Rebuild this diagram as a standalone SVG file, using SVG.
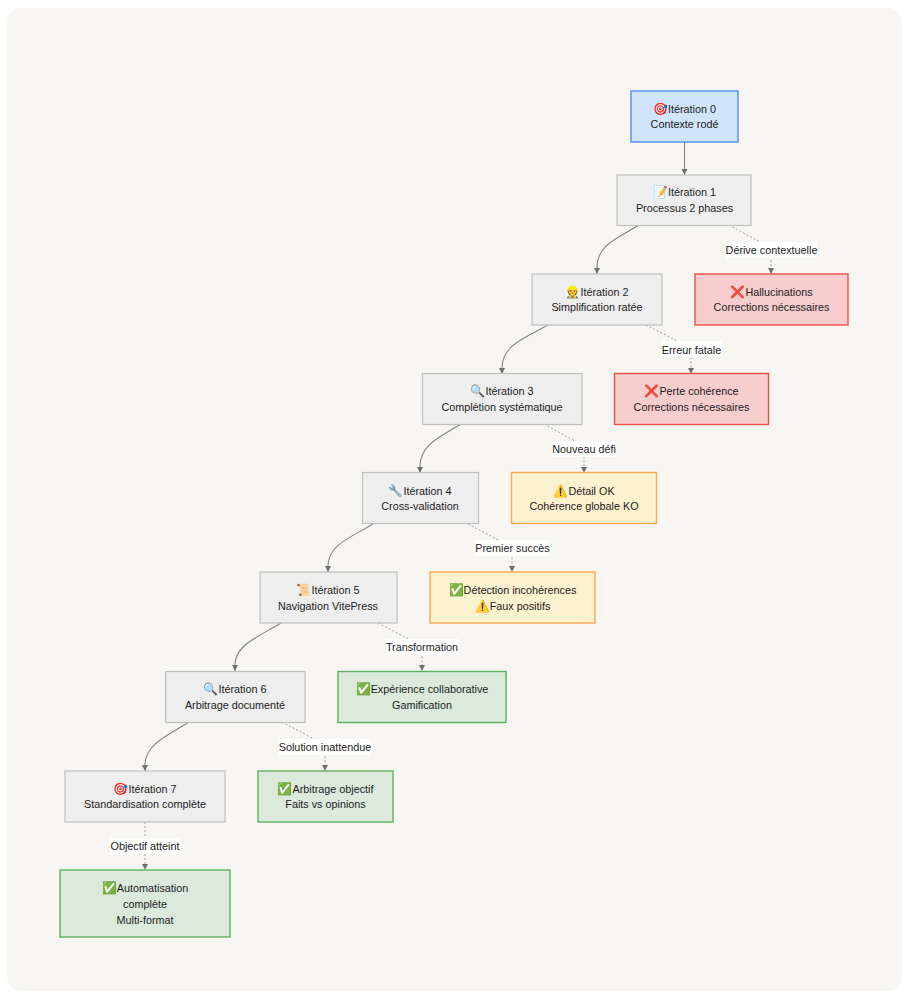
<svg xmlns="http://www.w3.org/2000/svg" width="912" height="1000" viewBox="0 0 912 1000">
<defs>
<marker id="arrow" markerWidth="7" markerHeight="7" refX="6" refY="3" orient="auto" markerUnits="userSpaceOnUse"><path d="M0 0L6 3L0 6z" fill="#6f6f6f"/></marker>
</defs>
<style>
text{font-family:"Liberation Sans",Arial,sans-serif;font-size:10.8px;fill:#1c1c1c;text-anchor:middle}
.e{font-size:12px}
.n rect{stroke-width:1.4}
.g rect{fill:#eeeeee;stroke:#c0c0c0;stroke-width:1.2}
.b rect{fill:#d0e4fc;stroke:#4d8ff0}
.r rect{fill:#f8cdcd;stroke:#ee4f46}
.y rect{fill:#fdf2d0;stroke:#f9a94f}
.v rect{fill:#dbeadb;stroke:#5eb160}
.s{fill:none;stroke:#858585;stroke-width:1.1}
.d{fill:none;stroke:#a0a0a0;stroke-width:1;stroke-dasharray:2 2}
.l{fill:#fff;stroke:none}
</style>
<rect width="912" height="1000" fill="#ffffff"/>
<rect x="7" y="8" width="895" height="983" rx="14" fill="#f7f6f3"/>
<g id="connectors">
<path class="s" marker-end="url(#arrow)" d="M684.500 142V175"/>
<path class="s" marker-end="url(#arrow)" d="M639 225C615 240 597 245 597 268V274"/>
<path class="s" marker-end="url(#arrow)" d="M548 325C525 338 502 345 502 368V374"/>
<path class="s" marker-end="url(#arrow)" d="M461 424C438 438 420 445 420 467V473"/>
<path class="s" marker-end="url(#arrow)" d="M373 524C350 538 328 545 328 566V572"/>
<path class="s" marker-end="url(#arrow)" d="M281 623C258 637 235 645 235 665V671"/>
<path class="s" marker-end="url(#arrow)" d="M189 722C166 736 145 745 145 765V771"/>
<path class="d" marker-end="url(#arrow)" d="M729 225L771 248V274"/>
<path class="d" marker-end="url(#arrow)" d="M646 325L691 348V374"/>
<path class="d" marker-end="url(#arrow)" d="M544 424L584 446V473"/>
<path class="d" marker-end="url(#arrow)" d="M468 524L512 547V572"/>
<path class="d" marker-end="url(#arrow)" d="M378 623L422 646V671"/>
<path class="d" marker-end="url(#arrow)" d="M282 722L325 745V771"/>
<path class="d" marker-end="url(#arrow)" d="M145 822V870"/>
<rect class="l" x="726" y="242" width="91" height="16"/><text x="771.500" y="254">Dérive contextuelle</text>
<rect class="l" x="661" y="341" width="61" height="16"/><text x="691.500" y="353.500">Erreur fatale</text>
<rect class="l" x="552" y="441" width="64" height="16"/><text x="584" y="452.500">Nouveau défi</text>
<rect class="l" x="475.500" y="540" width="73" height="16"/><text x="512.500" y="552">Premier succès</text>
<rect class="l" x="386" y="639" width="73" height="16"/><text x="422" y="651">Transformation</text>
<rect class="l" x="279" y="739" width="92" height="16"/><text x="325" y="750.500">Solution inattendue</text>
<rect class="l" x="110" y="838" width="70.500" height="16"/><text x="145" y="850">Objectif atteint</text>
</g>
<g id="iter0" class="n b"><rect x="631" y="91" width="107" height="51"/><text x="684.500" y="113"><tspan class="e">🎯</tspan>Itération 0</text><text x="684.500" y="128">Contexte rodé</text></g>
<g id="iter1" class="n g"><rect x="617" y="175" width="134" height="50.500"/><text x="684.500" y="196"><tspan class="e">📝</tspan>Itération 1</text><text x="684.500" y="212">Processus 2 phases</text></g>
<g id="iter2" class="n g"><rect x="532" y="274" width="130" height="51"/><text x="597" y="295.500"><tspan class="e">👷</tspan>Itération 2</text><text x="597" y="311">Simplification ratée</text></g>
<g id="halluc" class="n r"><rect x="695" y="274" width="153" height="51"/><text x="771.500" y="295.500"><tspan class="e">❌</tspan>Hallucinations</text><text x="771.500" y="311">Corrections nécessaires</text></g>
<g id="iter3" class="n g"><rect x="422.500" y="373.500" width="159.500" height="51"/><text x="502" y="395"><tspan class="e">🔍</tspan>Itération 3</text><text x="502" y="410.500">Complétion systématique</text></g>
<g id="perte" class="n r"><rect x="614.500" y="373.500" width="154" height="51"/><text x="691.500" y="395"><tspan class="e">❌</tspan>Perte cohérence</text><text x="691.500" y="410.500">Corrections nécessaires</text></g>
<g id="iter4" class="n g"><rect x="362.500" y="472.500" width="116" height="51"/><text x="420" y="494.500"><tspan class="e">🔧</tspan>Itération 4</text><text x="420" y="510">Cross-validation</text></g>
<g id="detail" class="n y"><rect x="511.500" y="472.500" width="145" height="51"/><text x="584" y="494.500"><tspan class="e">⚠️</tspan>Détail OK</text><text x="584" y="510">Cohérence globale KO</text></g>
<g id="iter5" class="n g"><rect x="260" y="572" width="137" height="51"/><text x="328" y="594"><tspan class="e">📜</tspan>Itération 5</text><text x="328" y="609.500">Navigation VitePress</text></g>
<g id="detect" class="n y"><rect x="430" y="572" width="165" height="51"/><text x="512.500" y="594"><tspan class="e">✅</tspan>Détection incohérences</text><text x="512.500" y="609.500"><tspan class="e">⚠️</tspan>Faux positifs</text></g>
<g id="iter6" class="n g"><rect x="165.500" y="671.500" width="139.500" height="51"/><text x="235" y="693"><tspan class="e">🔍</tspan>Itération 6</text><text x="235" y="708.500">Arbitrage documenté</text></g>
<g id="exp" class="n v"><rect x="338" y="671.500" width="168" height="51"/><text x="422" y="693"><tspan class="e">✅</tspan>Expérience collaborative</text><text x="422" y="708.500">Gamification</text></g>
<g id="iter7" class="n g"><rect x="65" y="771" width="160" height="51"/><text x="145" y="792.500"><tspan class="e">🎯</tspan>Itération 7</text><text x="145" y="808">Standardisation complète</text></g>
<g id="arb" class="n v"><rect x="258" y="771" width="135" height="51"/><text x="325.500" y="792.500"><tspan class="e">✅</tspan>Arbitrage objectif</text><text x="325.500" y="808">Faits vs opinions</text></g>
<g id="auto" class="n v"><rect x="60" y="870" width="170" height="67"/><text x="145" y="892"><tspan class="e">✅</tspan>Automatisation</text><text x="145" y="908">complète</text><text x="145" y="923.500">Multi-format</text></g>
</svg>
